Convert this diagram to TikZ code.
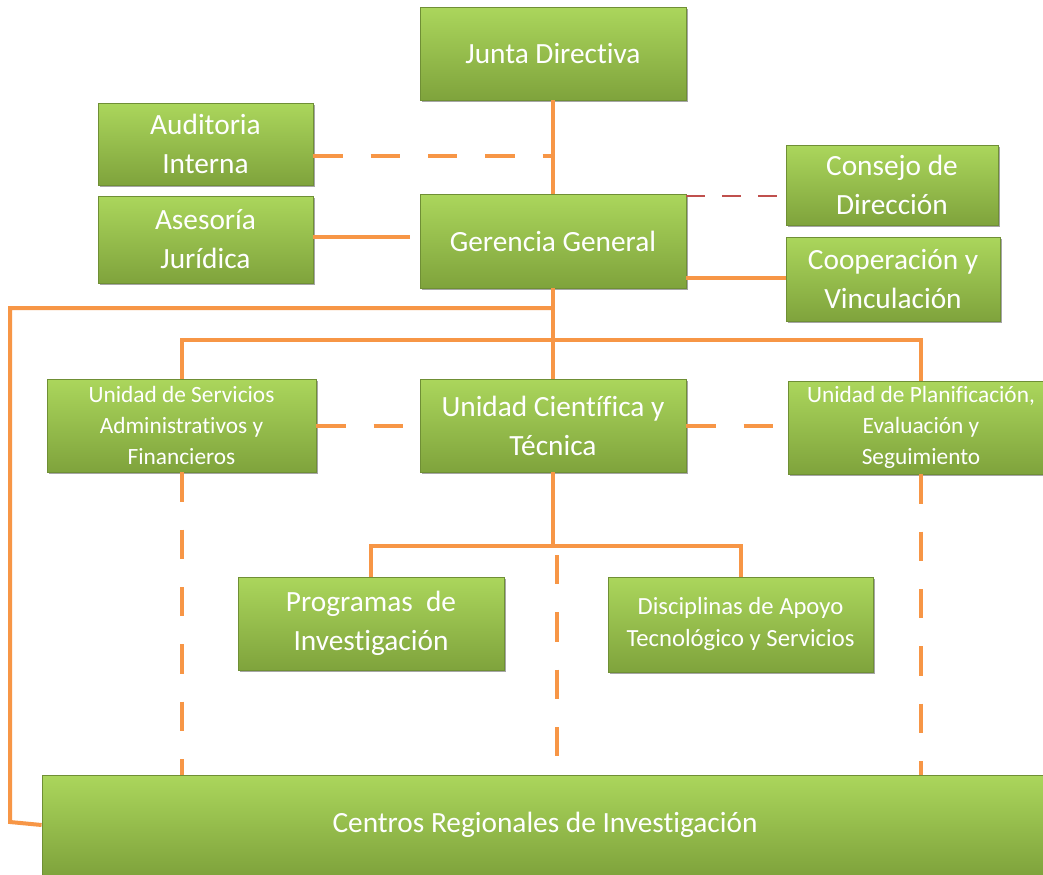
\documentclass[tikz,border=0pt]{standalone}
\usepackage{fontspec}
\setmainfont{Carlito}[Ligatures=NoCommon]
\usetikzlibrary{shadows}
\definecolor{ora}{HTML}{F79646}
\definecolor{dred}{HTML}{C0504D}
\definecolor{gtop}{HTML}{ABD65C}
\definecolor{gbot}{HTML}{7FA33C}
\definecolor{gedge}{HTML}{6F8F35}
\tikzset{
 orgbox/.style 2 args={rectangle, minimum width=#1*0.75pt, minimum height=#2*0.75pt,
   inner sep=0pt, top color=gtop, bottom color=gbot, draw=gedge, line width=0.6pt,
   text=white, align=center, font=\fontsize{22}{29.3}\selectfont,
   drop shadow={shadow xshift=1.5pt, shadow yshift=-1.5pt, opacity=0.35, fill=black}},
 smalltext/.style={font=\fontsize{17.5}{23}\selectfont},
 midtext/.style={font=\fontsize{18.5}{24}\selectfont},
 link/.style={draw=ora, line width=3pt},
 dlink/.style={link, dash pattern=on 22pt off 21pt},
 rlink/.style={draw=dred, line width=1.1pt, dash pattern=on 14pt off 13pt},
}
\begin{document}
\begin{tikzpicture}[x=0.75pt, y=-0.75pt]
\useasboundingbox (0,0) rectangle (1043,875);
\fill[white] (0,0) rectangle (1043,875);
% nodes
\node[orgbox={266}{93}] (jd) at (553,53.5) {Junta Directiva};
\node[orgbox={215}{82}] (ai) at (205.5,144) {Auditoria\\Interna};
\node[orgbox={215}{87}] (aj) at (205.5,239.5) {Asesoría\\Jurídica};
\node[orgbox={266}{94}] (gg) at (553,241) {Gerencia General};
\node[orgbox={212}{80}] (cd) at (892,185) {Consejo de\\Dirección};
\node[orgbox={214}{84}] (cv) at (893,279) {Cooperación y\\Vinculación};
\node[orgbox={269}{93}, smalltext] (us) at (181.5,425.5) {Unidad de Servicios\\Administrativos y\\Financieros};
\node[orgbox={266}{93}] (uc) at (553,425.5) {Unidad Científica y\\Técnica};
\node[orgbox={266}{93}, smalltext] (up) at (921,427.5) {Unidad de Planificación,\\Evaluación y\\Seguimiento};
\node[orgbox={266}{93}] (pi) at (371,623.5) {Programas~ de\\Investigación};
\node[orgbox={265}{95}, midtext] (da) at (740.5,624.5) {Disciplinas de Apoyo\\Tecnológico y Servicios};
\node[orgbox={1006}{100}] (cr) at (545,825) {Centros Regionales de Investigación};
\coordinate (lft) at (10,822);
\coordinate (mid) at (557,555);
% connectors
\draw[link] (jd.south) -- (gg.north);
\draw[dlink] (ai.east |- 0,156) -- (jd.south |- 0,156);
\draw[link, shorten >=7.5pt] (aj.east |- 0,237) -- (gg.west |- 0,237);
\draw[rlink] (gg.east |- 0,196) -- (cd.west |- 0,196);
\draw[link] (gg.east |- 0,278) -- (cv.west |- 0,278);
\draw[link] (gg.south) -- (uc.north);
\draw[link] (gg.south |- 0,308) -- (lft |- 0,308) -- (lft) -- (cr.west);
\draw[link] (us.north) -- (us.north |- 0,340) -- (up.north |- 0,340) -- (up.north);
\draw[dlink] (us.east) -- (uc.west);
\draw[dlink] (uc.east) -- (up.west |- uc.east);
\draw[link] (uc.south) -- (uc.south |- 0,546);
\draw[link] (pi.north) -- (pi.north |- 0,546) -- (da.north |- 0,546) -- (da.north);
\draw[dlink] (us.south) -- (us.south |- cr.north);
\draw[dlink] (mid) -- (mid |- cr.north);
\draw[dlink] (up.south) -- (up.south |- cr.north);
\end{tikzpicture}
\end{document}
